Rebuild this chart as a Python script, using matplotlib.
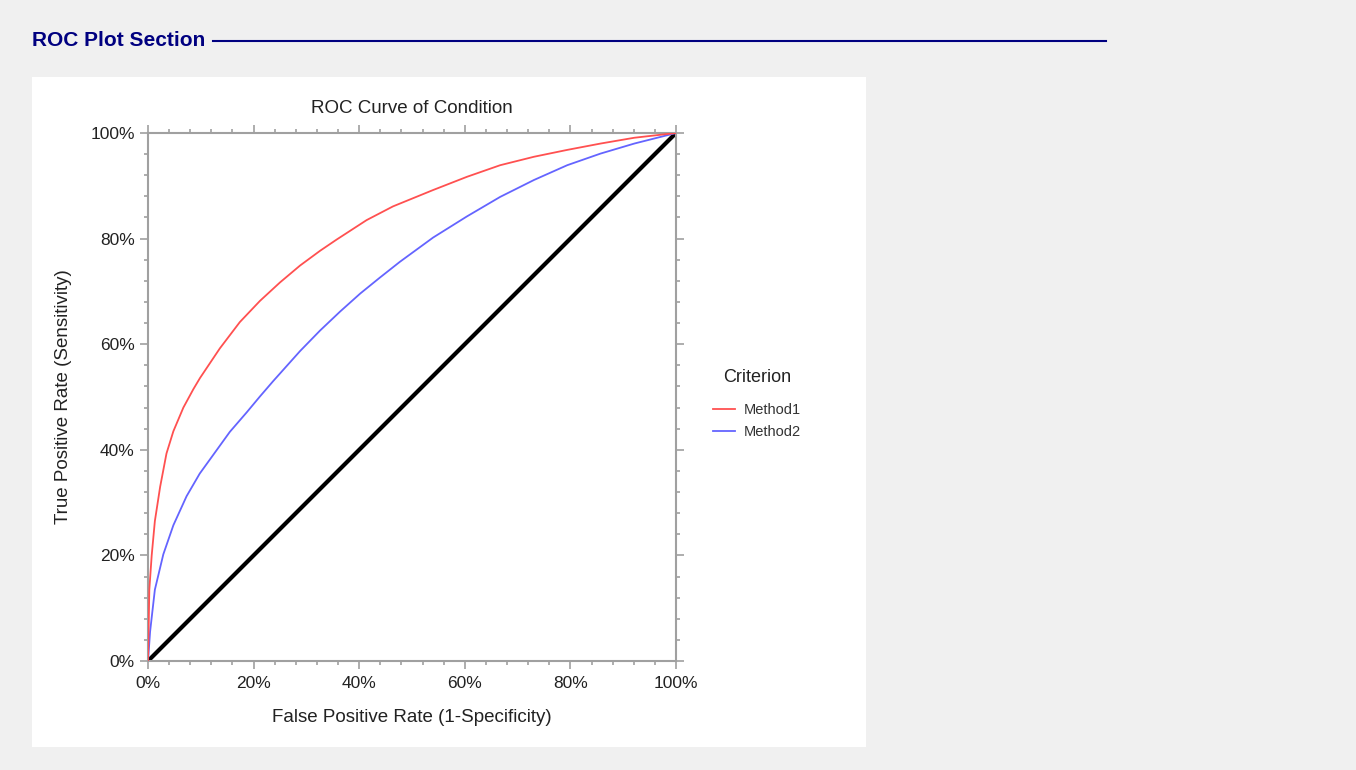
import matplotlib
matplotlib.use("Agg")
import matplotlib.pyplot as plt
from matplotlib.patches import Rectangle
from matplotlib.lines import Line2D
from matplotlib.ticker import MultipleLocator, PercentFormatter

plt.rcParams['font.family'] = ['Liberation Sans', 'DejaVu Sans']

# ROC points (percent)
fpr_m1 = [0, 0.1, 0.25, 0.7, 1.3, 2.3, 3.5, 4.8, 6.7, 8.6, 9.85, 13.6, 17.4, 21.2, 25.0,
          28.8, 32.6, 35.7, 41.4, 46.4, 54.0, 60.4, 66.7, 73.1, 79.4, 85.7, 92.1, 100]
tpr_m1 = [0, 5.0, 13.5, 20.0, 26.5, 33.0, 39.3, 43.5, 48.0, 51.5, 53.6, 59.2, 64.2, 68.2, 71.7,
          74.9, 77.7, 79.8, 83.5, 86.1, 89.2, 91.7, 93.9, 95.5, 96.8, 98.0, 99.1, 100]

fpr_m2 = [0, 0.4, 1.3, 2.9, 4.8, 7.3, 9.8, 12.4, 15.5, 18.7, 21.2, 23.7, 28.8, 32.6,
          36.4, 40.2, 43.9, 47.7, 54.0, 60.4, 66.7, 73.1, 79.4, 85.7, 92.1, 100]
tpr_m2 = [0, 5.6, 13.5, 20.2, 25.7, 31.2, 35.5, 39.1, 43.4, 47.1, 50.1, 53.0, 58.7, 62.6,
          66.2, 69.6, 72.6, 75.6, 80.2, 84.2, 87.9, 91.1, 93.9, 96.1, 98.0, 100]

diag = [0, 100]

fig = plt.figure(figsize=(13.56, 7.70), dpi=100)
fig.patch.set_facecolor('#f0f0f0')

# white report panel, behind the axes
fig.patches.append(Rectangle((32 / 1356, 1 - 747 / 770), 834 / 1356, 670 / 770,
                             transform=fig.transFigure, facecolor='white',
                             edgecolor='none', zorder=-5))

# section header
fig.text(32 / 1356, 1 - 41 / 770, 'ROC Plot Section', color='#000080',
         fontsize=15, fontweight='bold', va='center', ha='left')
fig.add_artist(Line2D([213 / 1356, 1106 / 1356], [1 - 41 / 770, 1 - 41 / 770],
                      transform=fig.transFigure, color='#000080', lw=1.5))

ax = fig.add_axes([148 / 1356, 1 - 661 / 770, 528 / 1356, 528 / 770])
ax.set_facecolor('white')

ax.plot(diag, diag, color='black', lw=3, zorder=2)
ax.plot(fpr_m2, tpr_m2, color='#6464ff', lw=1.3, label='Method2', zorder=3)
ax.plot(fpr_m1, tpr_m1, color='#ff5050', lw=1.3, label='Method1', zorder=4)

ax.set_xlim(0, 100)
ax.set_ylim(0, 100)
for a in (ax.xaxis, ax.yaxis):
    a.set_major_locator(MultipleLocator(20))
    a.set_minor_locator(MultipleLocator(4))
    a.set_major_formatter(PercentFormatter(decimals=0))

for s in ax.spines.values():
    s.set_color('#a0a0a0')
    s.set_linewidth(1.5)

ax.tick_params(which='both', direction='out', top=True, right=True,
               color='#a0a0a0', width=1.2)
ax.tick_params(which='major', length=6, labelsize=12.5, labelcolor='#222222')
ax.tick_params(which='minor', length=3)
ax.tick_params(axis='x', pad=5)

ax.set_title('ROC Curve of Condition', fontsize=13.5, color='#222222', pad=14.5)
ax.set_xlabel('False Positive Rate (1-Specificity)', fontsize=13.5, color='#222222', labelpad=12.5)
ax.set_ylabel('True Positive Rate (Sensitivity)', fontsize=13.5, color='#222222', labelpad=13)

handles, labels = ax.get_legend_handles_labels()
order = [labels.index('Method1'), labels.index('Method2')]
leg = ax.legend([handles[i] for i in order], [labels[i] for i in order],
                title='Criterion', loc='upper left',
                bbox_to_anchor=((713 - 148) / 528, (661 - 369) / 528),
                frameon=False, fontsize=10.5, title_fontsize=13,
                borderpad=0, borderaxespad=0,
                handlelength=1.5, handletextpad=0.6, labelspacing=0.6)
leg._legend_box.align = 'center'
leg._legend_box.sep = 12
leg.get_title().set_color('#222222')
for t in leg.get_texts():
    t.set_color('#333333')

fig.savefig('out.png', dpi=100, facecolor=fig.get_facecolor())
